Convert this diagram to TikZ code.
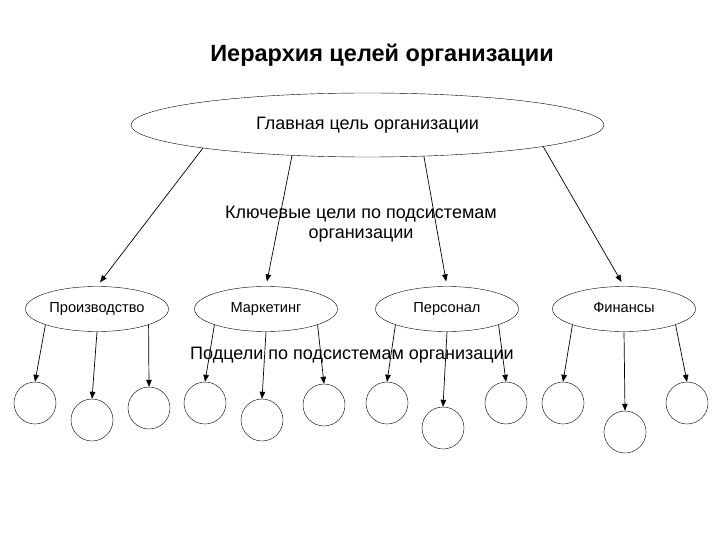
\documentclass[tikz,border=0pt]{standalone}
\usepackage{fontspec}
\setmainfont{Liberation Sans}
\usetikzlibrary{shapes.geometric,arrows.meta}

\begin{document}
\begin{tikzpicture}[x=1pt,y=-1pt,
    goal/.style={draw,ellipse,inner sep=0pt,minimum width=143pt,minimum height=45pt,
      text height=10pt,text depth=3pt,font=\fontsize{14.6}{17}\selectfont},
    subgoal/.style={draw,circle,inner sep=0pt,minimum size=42pt},
    arr/.style={-{Triangle[length=7pt,width=5.5pt]},line width=0.7pt}]
  \useasboundingbox (0,0) rectangle (720,540);
  \node[font=\bfseries\fontsize{23.5}{28}\selectfont] (title) at (382,55) {Иерархия целей организации};
  \node[draw,ellipse,inner sep=0pt,minimum width=473pt,minimum height=64pt,font=\fontsize{18}{21}\selectfont] (main) at (367.5,125) {Главная цель организации};
  \node[align=center,font=\fontsize{18}{20}\selectfont] (key) at (361,224) {Ключевые цели по подсистемам\\организации};
  \node[goal] (prod) at (97,309) {Производство};
  \node[goal] (mark) at (266,309) {Маркетинг};
  \node[goal] (pers) at (447,309) {Персонал};
  \node[goal] (fin) at (624,309) {Финансы};
  \node[font=\fontsize{18}{21}\selectfont] (sub) at (352,355) {Подцели по подсистемам организации};
  \foreach \name/\x/\y in {prod1/35/403,prod2/92/420,prod3/149/408,
      mark1/205/403,mark2/262/420,mark3/324/405,
      pers1/387/403,pers2/443/428,pers3/506/403,
      fin1/563/403,fin2/625/432,fin3/687/403} {
    \node[subgoal] (\name) at (\x,\y) {};
  }
  \foreach \a/\g in {188/prod,202/mark,331/pers,353/fin} {
    \draw[arr,shorten >=5pt] (main.\a) -- (\g.north);
  }
  \foreach \g in {prod,mark,pers,fin} {
    \draw[arr] (\g.197) -- (\g1.north);
    \draw[arr] (\g.south) -- (\g2.north);
    \draw[arr] (\g.343) -- (\g3.north);
  }
\end{tikzpicture}
\end{document}
